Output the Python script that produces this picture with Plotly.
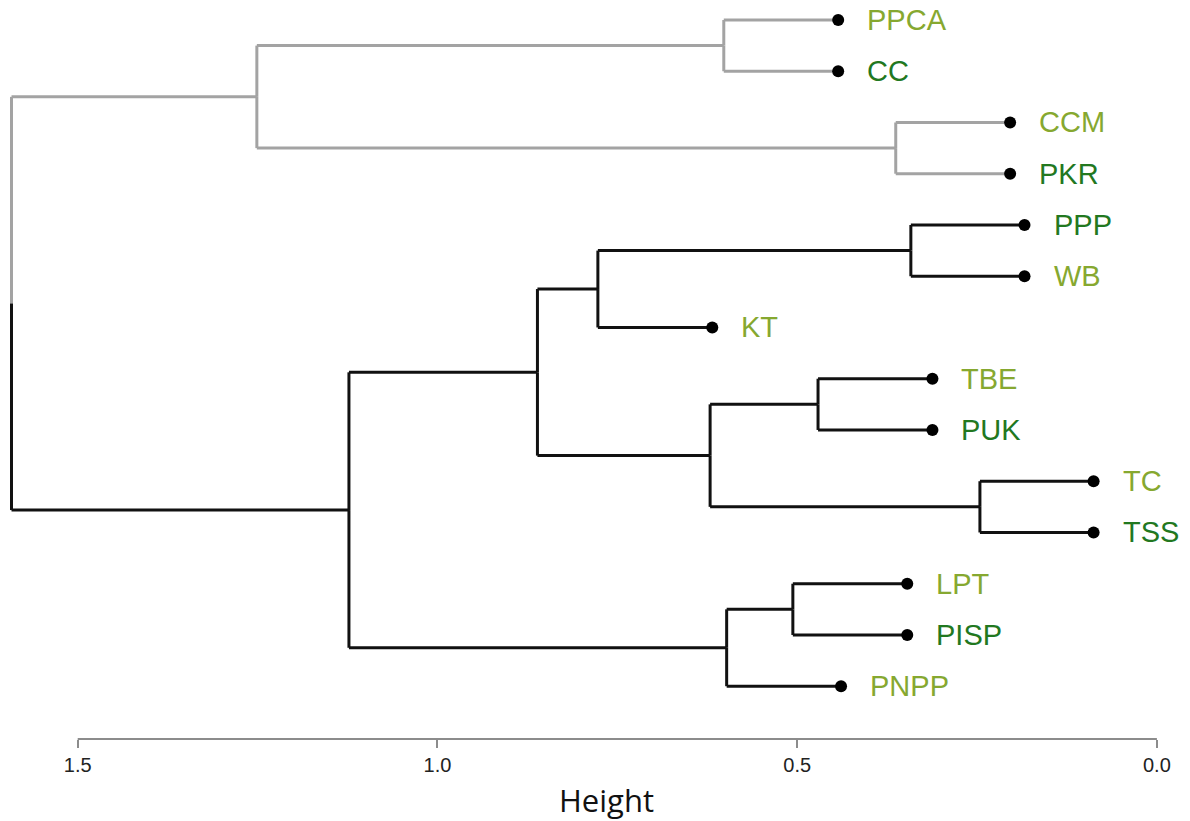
import plotly.graph_objects as go

# Leaves, top to bottom, with the height each leaf hangs at
labels = ["PPCA", "CC", "CCM", "PKR", "PPP", "WB", "KT",
          "TBE", "PUK", "TC", "TSS", "LPT", "PISP", "PNPP"]
leaf_height = [0.443, 0.443, 0.204, 0.204, 0.184, 0.184, 0.618,
               0.312, 0.312, 0.088, 0.088, 0.347, 0.347, 0.439]
label_tone = ["light", "dark", "light", "dark", "dark", "light", "light",
              "light", "dark", "light", "dark", "light", "dark", "light"]
leaf_group = [1, 1, 1, 1, 2, 2, 2, 2, 2, 2, 2, 2, 2, 2]

# Merge table (hclust style): negative = leaf number, positive = earlier merge
merge_left = [-10, -5, -3, -8, -12, 5, -1, 4, 2, 9, 10, 7, 12]
merge_right = [-11, -6, -4, -9, -13, -14, -2, 1, -7, 8, 6, 3, 11]
merge_height = [0.246, 0.342, 0.363, 0.471, 0.506, 0.598, 0.602,
                0.621, 0.777, 0.861, 1.123, 1.251, 1.592]

tick_vals = [1.5, 1.0, 0.5, 0.0]
tick_text = ["1.5", "1.0", "0.5", "0.0"]

group_color = {1: "#a3a3a3", 2: "#111111"}
tone_color = {"light": "#86a830", "dark": "#22781f"}

segs = {1: ([], []), 2: ([], [])}


def add_seg(group, x0, y0, x1, y1):
    xs, ys = segs[group]
    xs += [x0, x1, None]
    ys += [y0, y1, None]


node_y, node_group = {}, {}


def child_info(c):
    if c < 0:
        i = -c - 1
        return float(i), leaf_height[i], leaf_group[i]
    return node_y[c], merge_height[c - 1], node_group[c]


for k in range(len(merge_height)):
    h = merge_height[k]
    yl, hl, gl = child_info(merge_left[k])
    yr, hr, gr = child_info(merge_right[k])
    ym = (yl + yr) / 2
    node_y[k + 1] = ym
    node_group[k + 1] = gl if gl == gr else 0
    add_seg(gl, hl, yl, h, yl)
    add_seg(gr, hr, yr, h, yr)
    add_seg(gl, h, yl, h, ym)
    add_seg(gr, h, ym, h, yr)

fig = go.Figure()
for g in (1, 2):
    xs, ys = segs[g]
    fig.add_trace(go.Scatter(x=xs, y=ys, mode="lines",
                             line=dict(color=group_color[g], width=3),
                             hoverinfo="skip", showlegend=False))

leaf_y = list(range(len(labels)))
fig.add_trace(go.Scatter(x=leaf_height, y=leaf_y, mode="markers",
                         marker=dict(color="#000000", size=12),
                         text=labels, hoverinfo="text", showlegend=False))

for i, lab in enumerate(labels):
    fig.add_annotation(x=leaf_height[i], y=i, text=lab, showarrow=False,
                       xanchor="left", yanchor="middle", xshift=27,
                       font=dict(family="Liberation Sans", size=29,
                                 color=tone_color[label_tone[i]]))

# axis baseline spanning only the tick range
fig.add_shape(type="line", x0=tick_vals[0], x1=tick_vals[-1], y0=0, y1=0,
              xref="x", yref="paper", line=dict(color="#8c8c8c", width=2))

fig.add_annotation(x=0.51, y=-0.083, xref="paper", yref="paper", text="Height",
                   showarrow=False, xanchor="center", yanchor="middle",
                   font=dict(family="Open Sans", size=31, color="#111111"))

fig.update_layout(
    width=1190, height=821,
    margin=dict(l=0, r=0, t=0, b=82),
    plot_bgcolor="white", paper_bgcolor="white",
    xaxis=dict(range=[1.608, -0.046], showgrid=False, zeroline=False,
               showline=False, tickmode="array", tickvals=tick_vals,
               ticktext=tick_text, ticks="outside", ticklen=8, tickwidth=2,
               tickcolor="#8c8c8c",
               tickfont=dict(family="Liberation Sans", size=20, color="#222222")),
    yaxis=dict(range=[14.03, -0.39], showgrid=False, zeroline=False,
               showline=False, showticklabels=False, ticks=""),
)

fig.write_html("out.html")
